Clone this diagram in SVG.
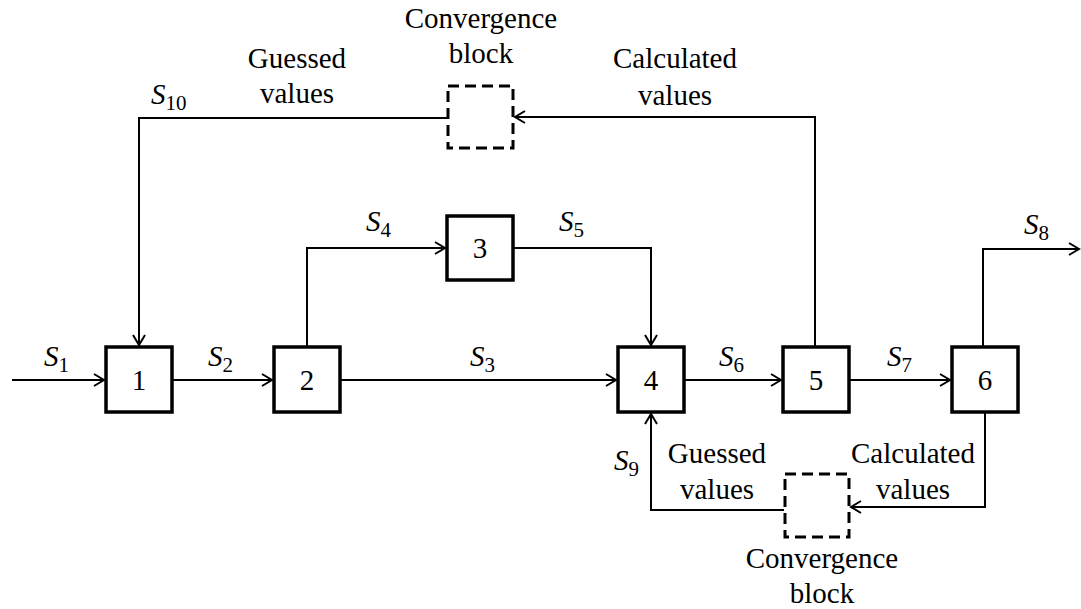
<svg xmlns="http://www.w3.org/2000/svg" width="1081" height="609" viewBox="0 0 1081 609">
<style>
.box{fill:#fff;stroke:#000;stroke-width:3.5}
.dash{fill:none;stroke:#000;stroke-width:3;stroke-dasharray:11 6}
.ln{fill:none;stroke:#000;stroke-width:2}
.arr{marker-end:url(#ah)}
text{font-family:'Liberation Serif','DejaVu Serif',serif;font-size:29px;fill:#000}
.c{text-anchor:middle}
.s{font-style:italic}
.sub{font-style:normal;font-size:21px}
</style>
<defs>
<marker id="ah" viewBox="-12 -8 14 16" refX="0" refY="0" markerWidth="14" markerHeight="16" markerUnits="userSpaceOnUse" orient="auto">
<path d="M-10,-6 L0,0 L-10,6" fill="none" stroke="#000" stroke-width="2"/>
</marker>
</defs>
<rect width="1081" height="609" fill="#fff"/>
<g id="connectors">
<path class="ln arr" d="M12 380 H104"/>
<path class="ln arr" d="M172 380 H272"/>
<path class="ln arr" d="M340 380 H616"/>
<path class="ln arr" d="M307 347 V248 H445"/>
<path class="ln arr" d="M513 248 H651 V345"/>
<path class="ln arr" d="M684 380 H781"/>
<path class="ln arr" d="M849 380 H950"/>
<path class="ln arr" d="M983 347 V249 H1079"/>
<path class="ln arr" d="M815 347 V117 H515"/>
<path class="ln arr" d="M447 118 H139 V345"/>
<path class="ln arr" d="M985 412 V507 H851"/>
<path class="ln arr" d="M784 510 H651 V414"/>
</g>
<g font-family="Liberation Serif, DejaVu Serif, serif">
<g id="node1"><rect class="box" x="106" y="347" width="66" height="65"/><text class="c" x="139" y="390">1</text></g>
<g id="node2"><rect class="box" x="274" y="347" width="66" height="65"/><text class="c" x="307" y="390">2</text></g>
<g id="node3"><rect class="box" x="447" y="216" width="66" height="64"/><text class="c" x="480" y="258">3</text></g>
<g id="node4"><rect class="box" x="618" y="347" width="66" height="65"/><text class="c" x="651" y="390">4</text></g>
<g id="node5"><rect class="box" x="783" y="347" width="66" height="65"/><text class="c" x="816" y="390">5</text></g>
<g id="node6"><rect class="box" x="952" y="347" width="66" height="65"/><text class="c" x="985" y="390">6</text></g>
<g id="conv-top"><rect class="dash" x="448" y="86" width="65" height="62"/>
<text class="c" x="481" y="28">Convergence</text><text class="c" x="481" y="63">block</text></g>
<g id="conv-bottom"><rect class="dash" x="785" y="474" width="64" height="63"/>
<text class="c" x="822" y="568">Convergence</text><text class="c" x="822" y="603">block</text></g>
<g id="labels">
<text class="c" x="297" y="68">Guessed</text><text class="c" x="297" y="103">values</text>
<text class="c" x="675" y="68">Calculated</text><text class="c" x="675" y="105">values</text>
<text class="c" x="717" y="463">Guessed</text><text class="c" x="717" y="499">values</text>
<text class="c" x="913" y="463">Calculated</text><text class="c" x="913" y="499">values</text>
<text class="s" x="44" y="366">S<tspan class="sub" dy="6">1</tspan></text>
<text class="s" x="208" y="366">S<tspan class="sub" dy="6">2</tspan></text>
<text class="s" x="470" y="366">S<tspan class="sub" dy="6">3</tspan></text>
<text class="s" x="366" y="231">S<tspan class="sub" dy="6">4</tspan></text>
<text class="s" x="559" y="231">S<tspan class="sub" dy="6">5</tspan></text>
<text class="s" x="719" y="366">S<tspan class="sub" dy="6">6</tspan></text>
<text class="s" x="887" y="366">S<tspan class="sub" dy="6">7</tspan></text>
<text class="s" x="1024" y="234">S<tspan class="sub" dy="6">8</tspan></text>
<text class="s" x="614" y="470">S<tspan class="sub" dy="6">9</tspan></text>
<text class="s" x="151" y="104">S<tspan class="sub" dy="6">10</tspan></text>
</g>
</g>
</svg>
